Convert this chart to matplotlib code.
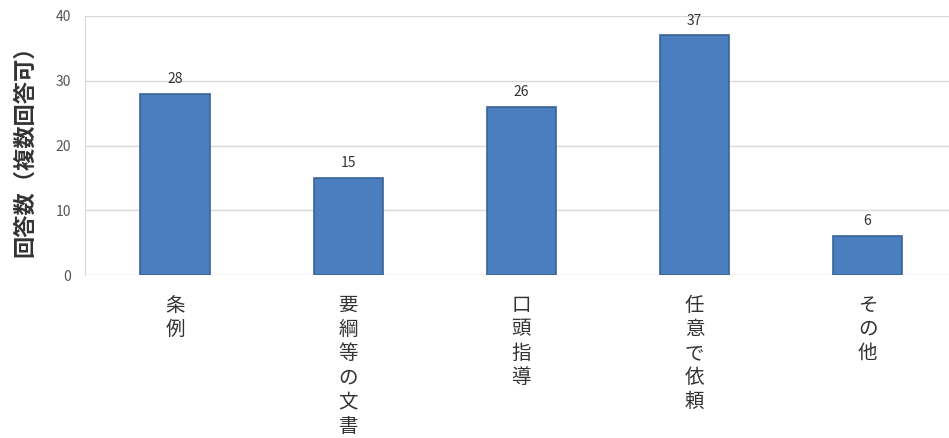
import numpy as np
import matplotlib.pyplot as plt

plt.rcParams['font.family'] = ['Noto Sans CJK JP', 'DejaVu Sans']

categories = ['条例', '要綱等の文書', '口頭指導', '任意で依頼', 'その他']
counts = [28, 15, 26, 37, 6]
yticks = [0, 10, 20, 30, 40]

fig = plt.figure(figsize=(9.49, 4.38), dpi=100)
ax = fig.add_axes([0.0896, 0.372, 0.9104, 0.5915])

x = np.arange(len(categories))
bars = ax.bar(x, counts, width=0.4, color='#4a7ebf', edgecolor='#3a6496', linewidth=1.2, zorder=3)
for b, v in zip(bars, counts):
    ax.text(b.get_x() + b.get_width() / 2, v + 1.2, str(v), ha='center', va='bottom',
            fontsize=10, color='#333333')

ax.set_xlim(-0.52, 4.47)
ax.set_ylim(0, 40)
ax.set_yticks(yticks)
ax.tick_params(axis='y', length=0, labelsize=10, labelcolor='#555555', pad=10)
ax.grid(axis='y', color='#d9d9d9', linewidth=1, zorder=0)
for s in ['top', 'right', 'bottom']:
    ax.spines[s].set_visible(False)
ax.spines['left'].set_color('#d9d9d9')

# vertical (stacked) japanese category labels
ax.set_xticks(x)
ax.set_xticklabels(['\n'.join(c) for c in categories], fontsize=14, color='#333333',
                   linespacing=1.2, va='top')
ax.tick_params(axis='x', length=0, pad=14)

ax.set_ylabel('回答数（複数回答可）', fontsize=16, fontweight='bold', color='#333333', labelpad=14)

fig.savefig('out.png', dpi=100)
